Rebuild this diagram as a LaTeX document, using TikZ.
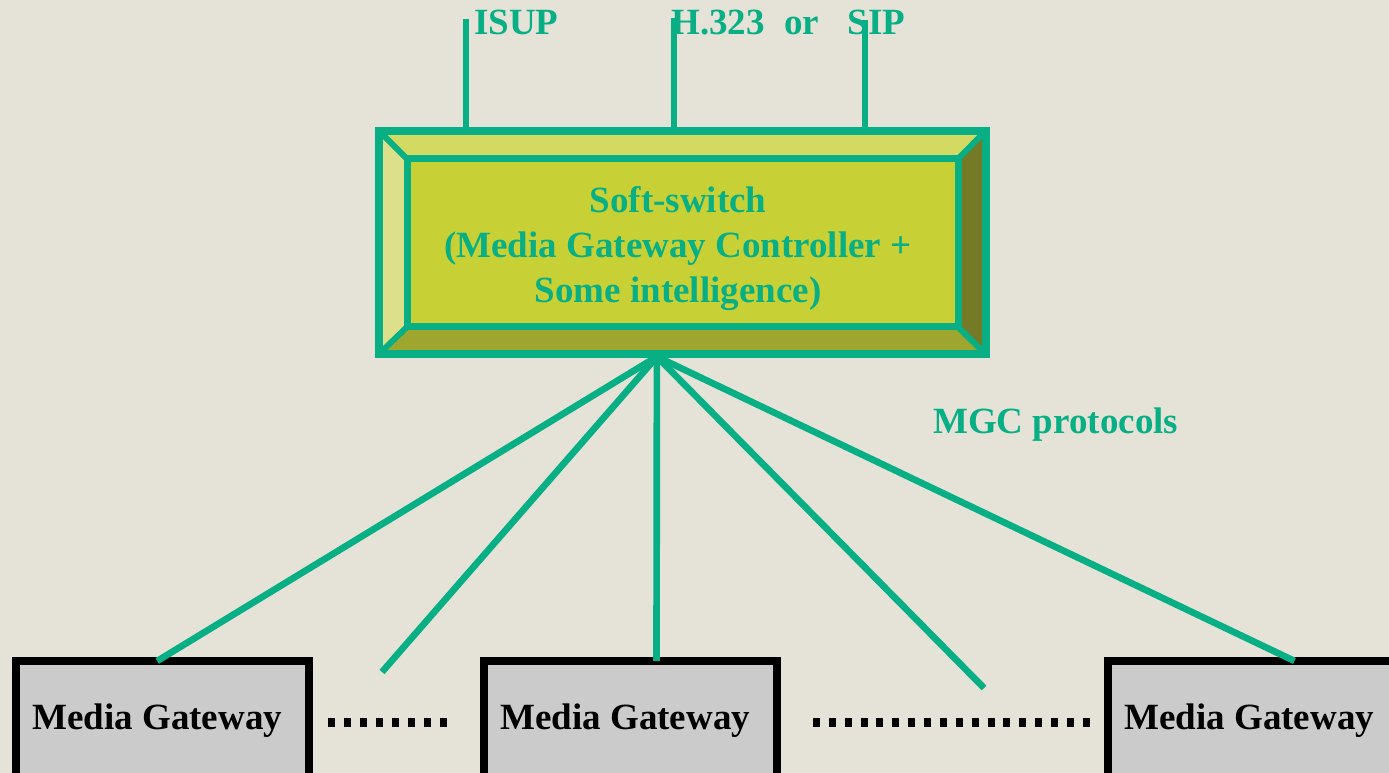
\documentclass[tikz,border=0pt]{standalone}
\usepackage{fontspec}
\setmainfont{Liberation Serif}
\definecolor{bg}{HTML}{E5E3D8}
\definecolor{grn}{HTML}{08AF85}
\definecolor{topbev}{HTML}{D2DA62}
\definecolor{leftbev}{HTML}{DCE08A}
\definecolor{rightbev}{HTML}{747A25}
\definecolor{botbev}{HTML}{9FA62D}
\definecolor{face}{HTML}{C7D136}
\definecolor{mgfill}{HTML}{CBCBCB}
\tikzset{
  big/.style={font=\fontsize{27.75pt}{33.75pt}\selectfont\bfseries},
  link/.style={draw=grn, line width=5pt},
  stub/.style={draw=grn, line width=4.5pt},
  mgbox/.style={draw=black, fill=mgfill, line width=6pt, outer sep=0pt,
    minimum width=219.75pt, minimum height=90pt, big, text=black,
    execute at end node={\hspace*{8pt}}},
  lbl/.style={big, text=grn, inner sep=0pt, anchor=base west},
  dotrow/.style={draw=black, line width=6.75pt, dash pattern=on 5.25pt off 6.75pt}
}
\begin{document}
\begin{tikzpicture}[x=0.75pt, y=-0.75pt]
\useasboundingbox (0,0) rectangle (1389,773);
\fill[bg] (0,0) rectangle (1389,773);

% bevelled soft-switch box
\coordinate (O1) at (379,131);
\coordinate (O2) at (985.5,131);
\coordinate (O3) at (985.5,354);
\coordinate (O4) at (379,354);
\coordinate (I1) at (407,159);
\coordinate (I2) at (958,159);
\coordinate (I3) at (958,327);
\coordinate (I4) at (407,327);

% media gateways
\node[mgbox] (mg1) at (162.5,721) {Media Gateway};
\node[mgbox] (mg2) at (630.5,721) {Media Gateway};
\node[mgbox] (mg3) at (1254.5,721) {Media Gateway};

\node[outer sep=0pt, inner sep=0pt, minimum width=454.9pt, minimum height=167.25pt] (ss) at (682.25,242.5) {};
\coordinate (hub) at ([xshift=-19pt,yshift=-2pt]ss.south);
\coordinate (e1) at (382,672);
\coordinate (e2) at (984,688);

\draw[link] (hub) -- ([xshift=-4pt]mg1.north);
\draw[link] (hub) -- (e1);
\draw[link] (hub) -- ([xshift=19.5pt]mg2.north);
\draw[link] (hub) -- (e2);
\draw[link] (hub) -- ([xshift=30pt]mg3.north);

\fill[topbev] (O1) -- (O2) -- (I2) -- (I1) -- cycle;
\fill[rightbev] (O2) -- (O3) -- (I3) -- (I2) -- cycle;
\fill[botbev] (O3) -- (O4) -- (I4) -- (I3) -- cycle;
\fill[leftbev] (O4) -- (O1) -- (I1) -- (I4) -- cycle;
\fill[face] (I1) rectangle (I3);
\draw[grn, line width=4.5pt] (O1) -- (I1) (O2) -- (I2) (O3) -- (I3) (O4) -- (I4);
\draw[grn, line width=5.25pt] (I1) rectangle (I3);
\draw[grn, line width=6pt] (ss.north west) rectangle (ss.south east);

\node[big, text=grn, align=center, inner sep=0pt] (sstext) at (678,249)
  {Soft-switch\\(Media Gateway Controller +\\Some intelligence)};

% protocol stubs
\coordinate (t1) at (466,19);
\coordinate (t2) at (674,18);
\coordinate (t3) at (865,20);
\node[lbl] (isup) at (474,35) {ISUP};
\node[lbl] (hsip) at (671,35) {H.323\hspace{14.6pt}or\hspace{21.4pt}SIP};
\draw[stub] (t1) -- (t1 |- ss.north);
\draw[stub] (t2) -- (t2 |- ss.north);
\draw[stub] (t3) -- (t3 |- ss.north);

\node[lbl] (mgc) at (933,434) {MGC protocols};

% dots between gateways
\coordinate (d1) at (328,722.5);
\coordinate (d2) at (448,722.5);
\coordinate (d3) at (813,722.5);
\coordinate (d4) at (1091,722.5);
\draw[dotrow] (d1) -- (d2);
\draw[dotrow, dash pattern=on 5.25pt off 6.65pt] (d3) -- (d4);
\end{tikzpicture}
\end{document}
